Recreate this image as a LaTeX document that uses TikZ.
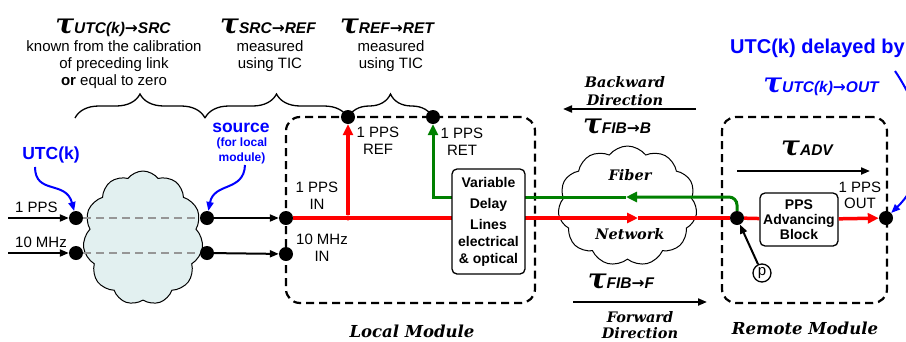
\documentclass[tikz,border=0pt]{standalone}
\usepackage{fontspec}
\setmainfont{Liberation Sans}
\newfontfamily\dejaserif{DejaVu Serif}
\newfontfamily\taufont{DejaVu Serif}
\newfontfamily\dejasans{DejaVu Sans}
\usetikzlibrary{arrows.meta,shapes.symbols,decorations.pathreplacing}
\definecolor{pred}{RGB}{255,0,0}
\definecolor{pgreen}{RGB}{0,128,0}
\definecolor{pblue}{RGB}{0,0,255}
\definecolor{cloudfill}{RGB}{226,240,240}
\definecolor{dgray}{RGB}{150,150,150}
\newcommand{\tarr}{{\dejasans\bfseries →}}
\newcommand{\tauto}[1]{{\taufont\bfseries\itshape\fontsize{28}{28}\selectfont τ}{\fontsize{15.5}{16}\selectfont\bfseries\itshape #1}}
\begin{document}
\begin{tikzpicture}[x=1pt,y=-1pt,font=\fontsize{15}{17}\selectfont,
 dot/.style={circle,fill=black,inner sep=0pt,minimum size=14pt},
 sdot/.style={circle,fill=pred,inner sep=0pt,minimum size=5pt},
 modbox/.style={draw,line width=2.2pt,dash pattern=on 8pt off 5pt,rounded corners=14pt,inner sep=0pt},
 blk/.style={draw,line width=2pt,-{Triangle[length=9pt,width=7pt]}},
 redl/.style={draw=pred,line width=3.5pt},
 redarr/.style={redl,-{Triangle[length=11pt,width=10pt]}},
 grnl/.style={draw=pgreen,line width=3pt},
 grnarr/.style={grnl,-{Triangle[length=11pt,width=10pt]}},
 bluearr/.style={draw=pblue,line width=2pt,-{Triangle[length=9pt,width=7pt]}},
 gdash/.style={draw=dgray,line width=2pt,dash pattern=on 8pt off 5pt},
 blockbox/.style={draw,line width=1.3pt,rounded corners=5pt,fill=white,font=\fontsize{14}{17}\selectfont\bfseries,align=center,inner sep=0pt},
 lbl/.style={inner sep=0pt,align=center},
 sbi/.style={inner sep=0pt,align=center,font=\dejaserif\bfseries\itshape\fontsize{14.5}{18}\selectfont},
 brc/.style={draw,line width=1.3pt,decorate,decoration={brace,amplitude=24pt}},
 cloudshape/.style={cloud,draw,line width=1pt,cloud puffs=11,cloud puff arc=105,cloud ignores aspect,inner sep=0pt}
]
\useasboundingbox (0,0) rectangle (906,341);

% modules and clouds
\node[modbox,minimum width=249pt,minimum height=186pt] (lm) at (410.5,210) {};
\node[modbox,minimum width=165pt,minimum height=186pt] (rmod) at (804.5,210) {};
\node[cloudshape,fill=cloudfill,minimum width=120pt,minimum height=134pt] (c1) at (143,238) {};
\node[cloudshape,fill=white,minimum width=139pt,minimum height=120pt] (c2) at (627.5,206) {};

% dots
\node[dot] (a1) at (76,218) {};
\node[dot] (a2) at (76,253) {};
\node[dot] (s1) at (207,218) {};
\node[dot] (s2) at (207,253) {};
\node[dot] (L1) at (286,218) {};
\node[dot] (L2) at (286,254) {};
\node[dot] (R1) at (348,117) {};
\node[dot] (R2) at (433,117) {};
\node[dot] (P) at (737,218) {};
\node[dot] (O) at (886,218) {};

% top labels
\node[anchor=base,inner sep=0pt] (t1) at (113,33) {\tauto{UTC(k)\tarr SRC}};
\node[lbl] (t1a) at (114,65) {known from the calibration\\of preceding link\\\textbf{or} equal to zero};
\node[anchor=base,inner sep=0pt] (t2) at (268,33) {\tauto{SRC\tarr REF}};
\node[lbl] (t2a) at (270,56.5) {measured\\using TIC};
\node[anchor=base,inner sep=0pt] (t3) at (387,33) {\tauto{REF\tarr RET}};
\node[lbl] (t3a) at (391,56.5) {measured\\using TIC};

% braces
\coordinate (b0) at (75,118);
\coordinate (b1) at (205,118);
\coordinate (b2) at (348,118);
\coordinate (b3) at (433,118);
\draw[brc] (b0) -- (b1);
\draw[brc] (b1) -- (b2);
\draw[brc] (b2) -- (b3);

% inputs
\coordinate (in1) at (8,218);
\coordinate (in2) at (8,253);
\draw[blk] (in1) -- (a1);
\draw[blk] (in2) -- (a2);
\node[lbl] (l1pps) at (36.5,207) {1 PPS};
\node[lbl] (l10m) at (41,242) {10 MHz};
\draw[gdash] (a1) -- (s1);
\draw[gdash] (a2) -- (s2);
\draw[blk] (s1) -- (L1);
\draw[blk] (s2) -- (L2);

% red and green signal paths
\node[sdot] (J) at (348,218) {};
\coordinate (rm) at (638,218);
\draw[redarr] (L1) -- (rm);
\draw[redl] (rm) -- (P);
\draw[redarr] (J) -- (R1);
\coordinate (gm) at (626,197);
\draw[grnarr,rounded corners=8pt] (P.north) |- (gm);
\draw[grnarr] (gm) -| (R2);

% blocks
\node[blockbox,minimum width=73pt,minimum height=105pt] (vd) at (488.5,221.5) {Variable\\[4pt]Delay\\[4pt]Lines\\electrical\\\& optical};
\node[blockbox,minimum width=78pt,minimum height=53pt,font=\fontsize{14}{15}\selectfont\bfseries] (pa) at (799,219.5) {PPS\\Advancing\\Block};
\draw[redl] (P) -- (pa);
\draw[redarr] (pa) -- (O);

% local module labels
\node[lbl] (lin) at (317,195.5) {1 PPS\\IN};
\node[lbl] (l10in) at (322,247.5) {10 MHz\\IN};
\node[lbl] (lref) at (378,140.5) {1 PPS\\REF};
\node[lbl] (lret) at (462,141.5) {1 PPS\\RET};

% fiber
\node[sbi] (fib) at (630,175) {Fiber};
\node[sbi] (net) at (630,234) {Network};
\node[sbi] (bwd) at (625,91) {Backward\\Direction};
\coordinate (bw1) at (696,109);
\coordinate (bw0) at (563,109);
\draw[blk] (bw1) -- (bw0);
\node[anchor=base,inner sep=0pt] (tfb) at (617,133) {\tauto{FIB\tarr B}};
\node[anchor=base,inner sep=0pt] (tff) at (621,288) {\tauto{FIB\tarr F}};
\coordinate (fw0) at (573,302);
\coordinate (fw1) at (707,302);
\draw[blk] (fw0) -- (fw1);
\node[sbi,font=\dejaserif\bfseries\itshape\fontsize{14.5}{16}\selectfont] (fwd) at (640,325) {Forward\\Direction};
\node[sbi,font=\dejaserif\bfseries\itshape\fontsize{16.5}{18}\selectfont] (lml) at (412,331) {Local Module};
\node[sbi,font=\dejaserif\bfseries\itshape\fontsize{16.5}{18}\selectfont] (rml) at (805,328) {Remote Module};

% remote module
\node[anchor=base,inner sep=0pt] (tadv) at (807,155) {\tauto{ADV}};
\coordinate (adv0) at (737,171);
\coordinate (adv1) at (870,171);
\draw[blk] (adv0) -- (adv1);
\node[lbl,font=\fontsize{15}{16}\selectfont] (lout) at (860,195) {1 PPS\\OUT};
\node[draw,circle,line width=1.3pt,inner sep=0pt,minimum size=18pt,font=\fontsize{15}{15}\selectfont] (pc) at (762,273) {p};
\draw[blk] (pc) -- (P);

% blue annotations
\node[lbl,text=pblue,font=\bfseries\fontsize{17.5}{20}\selectfont] (ul) at (51,155) {UTC(k)};
\coordinate (uls) at (35,167);
\draw[bluearr] (uls) .. controls (35,195) and (66,180) .. (a1);
\node[lbl,text=pblue,font=\bfseries\fontsize{17.5}{20}\selectfont] (src) at (241,128) {source};
\node[lbl,text=pblue,font=\bfseries\fontsize{12}{15}\selectfont] (srcb) at (242,151) {(for local\\module)};
\coordinate (srcs) at (245,165);
\draw[bluearr] (srcs) .. controls (244,192) and (214,182) .. (s1);
\node[anchor=west,inner sep=0pt,text=pblue,font=\bfseries\fontsize{20}{22}\selectfont] (ud) at (730,48) {UTC(k) delayed by};
\node[anchor=base,inner sep=0pt,text=pblue] (uo) at (821,92) {\tauto{UTC(k)\tarr OUT}};
\coordinate (ude) at (895,71);
\draw[bluearr] (ude) .. controls (935,130) and (925,180) .. (O);
\end{tikzpicture}
\end{document}
